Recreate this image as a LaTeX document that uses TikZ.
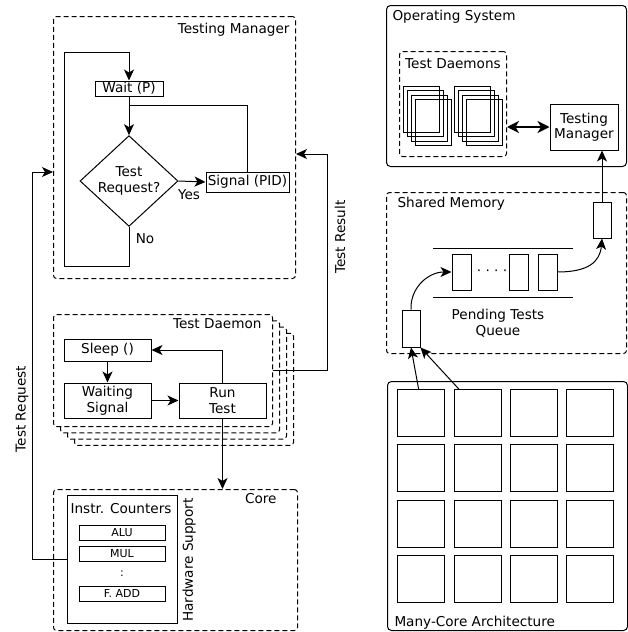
\documentclass[tikz,border=0pt]{standalone}
\usepackage{fontspec}
\setmainfont{DejaVu Sans}
\usetikzlibrary{arrows.meta,shapes.geometric,calc}
\begin{document}
\begin{tikzpicture}[x=1pt,y=-1pt,line width=1pt,
 font=\fontsize{13.6}{15.5}\selectfont,
 arr/.style={-{Stealth[length=11pt,width=10pt,inset=3pt]}},
 dblarr/.style={{Stealth[length=12pt,width=12pt,inset=3.5pt]}-{Stealth[length=12pt,width=12pt,inset=3.5pt]},line width=2pt},
 dbox/.style={draw,dash pattern=on 5pt off 3pt,rounded corners=3pt,inner sep=0pt,anchor=north west},
 sbox/.style={draw,rounded corners=4pt,inner sep=0pt,anchor=north west},
 blk/.style={draw,inner sep=0pt,align=center},
 small/.style={font=\fontsize{11}{13}\selectfont},
 lbl/.style={inner sep=0pt},
]
\useasboundingbox (0,0) rectangle (627,632);

% ---------- Testing Manager ----------
\node[dbox,minimum width=242pt,minimum height=262pt] (tm) at (53,16) {};
\node[lbl,anchor=base east] (tmlabel) at (290,33) {Testing Manager};
\node[blk,minimum width=68pt,minimum height=15pt] (wait) at (129,88.5) {Wait (P)};
\node[draw,diamond,inner sep=0pt,minimum width=98pt,minimum height=86pt,align=center] (dia) at (129,181) {Test\\Request?};
\node[blk,minimum width=83pt,minimum height=20pt] (sig) at (247.5,182) {Signal (PID)};
\node[lbl] (yes) at (189,195) {Yes};
\node[lbl] (no) at (145,239) {No};
\coordinate (loopbl) at (64,266);
\coordinate (looptl) at (64,52);
\coordinate (join) at (129,105);
\draw[arr] (dia.south) |- (loopbl) -- (looptl) -| (wait.north);
\draw[arr] (wait.south) -- (dia.north);
\draw (sig.north) |- (join);
\draw[arr] (dia.east) -- (sig.west);

% ---------- Test Daemon stack ----------
\foreach \k in {3,2,1} {
  \node[dbox,fill=white,minimum width=219pt,minimum height=112pt] (tdb\k) at (53+7*\k,314+6.3*\k) {};
}
\node[dbox,fill=white,minimum width=219pt,minimum height=112pt] (td) at (53,314) {};
\node[lbl,anchor=base east] (tdlabel) at (262,328) {Test Daemon};
\node[blk,minimum width=87pt,minimum height=22pt] (sleep) at (107.5,350) {Sleep ()};
\node[blk,minimum width=87pt,minimum height=35pt] (waiting) at (107.5,400.5) {Waiting\\Signal};
\node[blk,minimum width=87pt,minimum height=35pt] (run) at (222.5,400.5) {Run\\Test};
\draw[arr] (sleep.south) -- (waiting.north);
\draw[arr] (waiting.east) -- (run.west);
\draw[arr] (run.north) |- (sleep.east);

% ---------- Core ----------
\node[dbox,minimum width=244pt,minimum height=141pt] (core) at (53,489) {};
\node[lbl,anchor=base east] (corelabel) at (277,503) {Core};
\node[draw,inner sep=0pt,anchor=north west,minimum width=110pt,minimum height=128pt] (ic) at (67,495) {};
\node[lbl,anchor=base] (iclabel) at (121,513) {Instr. Counters};
\node[blk,small,minimum width=86pt,minimum height=15pt] (alu) at (122,532.5) {ALU};
\node[blk,small,minimum width=86pt,minimum height=15pt] (mul) at (122,553.5) {MUL};
\node[lbl,small] (dots) at (122,574) {:};
\node[blk,small,minimum width=86pt,minimum height=15pt] (fadd) at (122,593.5) {F. ADD};
\node[lbl,rotate=90] (hwlabel) at (189,560) {Hardware Support};
\draw[arr] (run.south) -- (run.south |- core.north);

% ---------- Test Request / Test Result ----------
\coordinate (trq) at (32,172);
\draw[arr] (ic.west) -| (trq) -- (trq -| tm.west);
\node[lbl,rotate=90] (trqlabel) at (22,409) {Test Request};
\coordinate (trs) at (327,154);
\draw[arr] (td.east) -| (trs) -- (trs -| tm.east);
\node[lbl,rotate=90] (trslabel) at (340,237) {Test Result};

% ---------- Operating System ----------
\node[sbox,minimum width=240pt,minimum height=161pt] (os) at (386,5) {};
\node[lbl,anchor=base west] (oslabel) at (392,20) {Operating System};
\node[dbox,minimum width=107pt,minimum height=105pt] (tds) at (399,51) {};
\node[lbl,anchor=base] (tdslabel) at (453,68) {Test Daemons};
\foreach \k in {0,1,2,3} {
  \node[draw,inner sep=0pt,anchor=north west,minimum width=36pt,minimum height=46pt] (da\k) at (403+4*\k,86+4.3*\k) {};
  \node[draw,inner sep=0pt,anchor=north west,minimum width=36pt,minimum height=46pt] (db\k) at (454+4*\k,86+4.3*\k) {};
}
\node[blk,minimum width=68pt,minimum height=46pt] (osm) at (584,127) {Testing\\Manager};
\draw[dblarr] (osm.west -| tds.east) -- (osm.west);

% ---------- Shared Memory ----------
\node[dbox,minimum width=240pt,minimum height=161pt] (shm) at (386,192) {};
\node[lbl,anchor=base west] (shmlabel) at (397,207) {Shared Memory};
\node[draw,inner sep=0pt,minimum width=18pt,minimum height=36pt] (sm1) at (602,220) {};
\node[draw,inner sep=0pt,minimum width=18pt,minimum height=37pt] (sm2) at (411,328.5) {};
\coordinate (qa1) at (433,248);
\coordinate (qa2) at (573,248);
\coordinate (qb1) at (433,297);
\coordinate (qb2) at (573,297);
\draw (qa1) -- (qa2);
\draw (qb1) -- (qb2);
\node[draw,inner sep=0pt,minimum width=19pt,minimum height=36pt] (q1) at (461.5,272) {};
\node[draw,inner sep=0pt,minimum width=19pt,minimum height=36pt] (q2) at (518.5,272) {};
\node[draw,inner sep=0pt,minimum width=19pt,minimum height=36pt] (q3) at (547.5,272) {};
\node[lbl] (qdots) at (492,273) {· · · ·};
\node[lbl,align=center] (qlabel) at (498,323) {Pending Tests\\Queue};
\draw[arr] (sm1.north) -- (sm1.north |- osm.south);
\draw[arr] (q3.east) .. controls (588,272) and (600,262) .. (sm1.south);
\draw[arr] (sm2.north) .. controls (410,288) and (428,272) .. (q1.west);

% ---------- Many-Core Architecture ----------
\node[sbox,minimum width=240pt,minimum height=249pt] (mc) at (387,381) {};
\node[lbl,anchor=base west] (mclabel) at (394,626) {Many-Core Architecture};
\foreach \r/\yy in {1/389,2/444,3/500,4/555} {
  \foreach \c/\xx in {1/397,2/454,3/510,4/566} {
    \node[draw,inner sep=0pt,anchor=north west,minimum size=47pt] (c\r\c) at (\xx,\yy) {};
  }
}
\draw[arr] ($(c11.north west)!0.45!(c11.north east)$) -- (sm2.south);
\draw[arr] ($(c12.north west)!0.1!(c12.north east)$) -- (sm2.south east);
\end{tikzpicture}
\end{document}
